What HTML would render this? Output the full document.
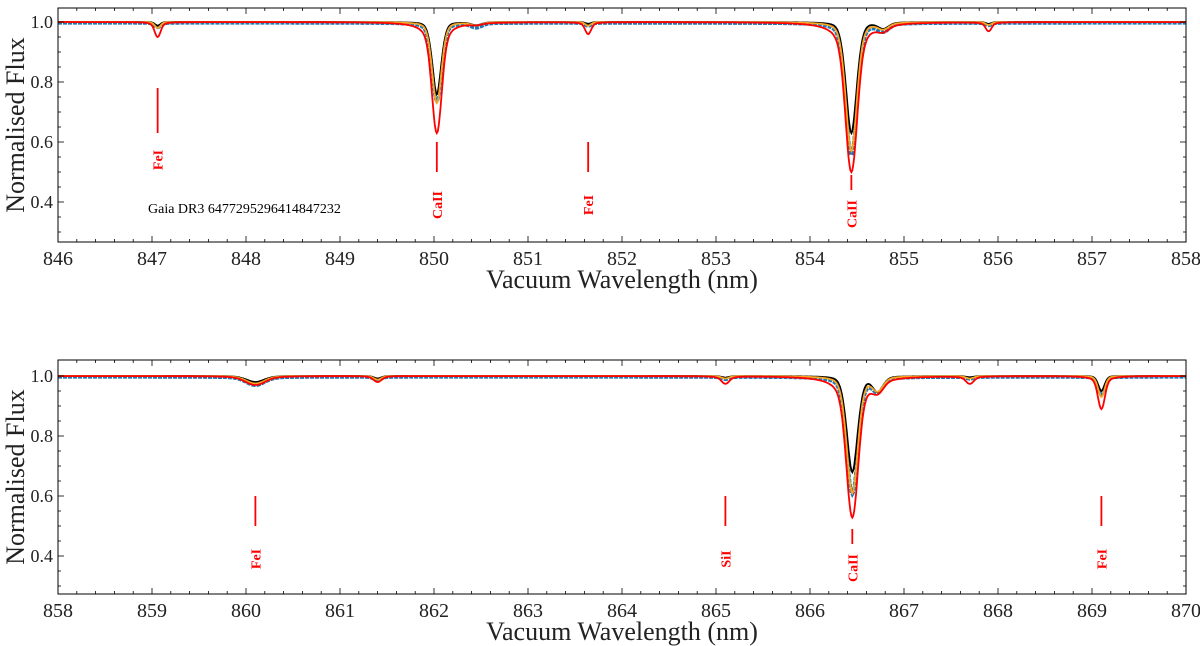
<!DOCTYPE html>
<html><head><meta charset="utf-8"><style>
html,body{margin:0;padding:0;background:#fff;}
svg{display:block;font-family:"Liberation Serif",serif;}
</style></head><body>
<svg id="chart" width="1200" height="646" viewBox="0 0 1200 646" xmlns="http://www.w3.org/2000/svg"></svg>
<script>
// ---- data ----
const panelRanges = [[846, 858], [858, 870]];
const xTickLabels = [["846","847","848","849","850","851","852","853","854","855","856","857","858"],
                     ["858","859","860","861","862","863","864","865","866","867","868","869","870"]];
const yTickValues = [0.4, 0.6, 0.8, 1.0];
// absorption lines: center(nm), width(nm)
const lineCenters = [847.06, 850.03, 850.45, 851.64, 854.44, 854.78, 855.90, 860.10, 861.40, 865.10, 866.45, 866.72, 867.70, 869.10];
const lineWidths  = [0.03,   0.05,   0.06,   0.03,   0.06,   0.06,   0.03,   0.10,   0.04,   0.04,   0.06,   0.06,   0.04,   0.035];
// depths for each model
const depthRed    = [0.05, 0.37, 0.006,0.04, 0.50, 0.02, 0.03, 0.030, 0.020, 0.025, 0.47, 0.04, 0.025, 0.11];
const depthBlack  = [0.012,0.24, 0.01, 0.006,0.37, 0.02, 0.006,0.020, 0.008, 0.005, 0.32, 0.05, 0.004, 0.05];
const depthOrange = [0.02, 0.27, 0.01, 0.012,0.43, 0.02, 0.010,0.025, 0.012, 0.008, 0.39, 0.045,0.008, 0.07];
const depthBlue   = [0.015,0.26, 0.015,0.010,0.44, 0.025,0.008,0.028, 0.010, 0.008, 0.39, 0.045,0.006, 0.06];
const wingRed = 1.6, wingBlack = 0.8, wingOrange = 1.0, wingBlue = 1.05;
// line identifications
const markWave  = [847.06, 850.03, 851.64, 854.44, 860.10, 865.10, 866.45, 869.10];
const markLabel = ["FeI", "CaII", "FeI", "CaII", "FeI", "SiI", "CaII", "FeI"];
const markTop   = [0.78, 0.60, 0.60, 0.49, 0.60, 0.60, 0.49, 0.60];
const markBot   = [0.63, 0.50, 0.50, 0.44, 0.50, 0.50, 0.44, 0.50];
const markText  = [0.54, 0.39, 0.39, 0.36, 0.39, 0.39, 0.36, 0.39];
// ---- layout ----
const NS = "http://www.w3.org/2000/svg";
const svg = document.getElementById('chart');
const L = 58, R = 1186;
const panelTop = [8, 360], panelBot = [242, 594], panelOne = [22, 376];
function mk(tag, attrs, parent){const e=document.createElementNS(NS,tag);for(const k in attrs)e.setAttribute(k,attrs[k]);(parent||svg).appendChild(e);return e;}
function xs(p, w){const [a,b]=panelRanges[p];return L+(w-a)/(b-a)*(R-L);}
function ys(p, f){return panelOne[p]+(1-f)*300;}
function model(w, depths, wing){let f=1;for(let i=0;i<lineCenters.length;i++){const d=w-lineCenters[i],s=lineWidths[i];const g=Math.exp(-d*d/(2*s*s));const lz=1/(1+(d/(s*wing*1.2))**2);f-=depths[i]*(0.7*g+0.3*lz);}return f;}
function path(p, depths, wing, off){const [a,b]=panelRanges[p];let d="";for(let w=a;w<=b+1e-9;w+=0.01){d+=(d?"L":"M")+xs(p,w).toFixed(1)+","+ys(p,Math.max(0.27,model(w,depths,wing)-off)).toFixed(1);}return d;}
for(let p=0;p<2;p++){
  const g = mk('g',{});
  
  
  const clipId='clip'+p;
  const cp=mk('clipPath',{id:clipId},g);mk('rect',{x:L,y:panelTop[p],width:R-L,height:panelBot[p]-panelTop[p]},cp);
  const series=[['observed-spectrum','#1f77b4',depthBlue,wingBlue,3.5,'4,1',0.003],['orange-model','#f5a623',depthOrange,wingOrange,1.8,null,0],['black-model','#000',depthBlack,wingBlack,1.8,null,0],['red-model','#ff0000',depthRed,wingRed,1.8,null,0]];
  const order=[0,2,1,3];
  for(const i of order){const s=series[i];const e=mk('path',{d:path(p,s[2],s[3],s[6]),fill:'none',stroke:s[1],'stroke-width':s[4],'clip-path':'url(#'+clipId+')'},g);if(s[5])e.setAttribute('stroke-dasharray',s[5]);
    
    }
  const fr=mk('rect',{x:L,y:panelTop[p],width:R-L,height:panelBot[p]-panelTop[p],fill:'none',stroke:'#000','stroke-width':1},g);
  
  
  const [a,b]=panelRanges[p];
  for(let k=0;k<=60;k++){const w=a+k*0.2;const x=xs(p,w);const major=k%5===0;const len=major?6:3;
    mk('line',{x1:x,x2:x,y1:panelBot[p],y2:panelBot[p]-len,stroke:'#000','stroke-width':0.8},g);
    mk('line',{x1:x,x2:x,y1:panelTop[p],y2:panelTop[p]+len,stroke:'#000','stroke-width':0.8},g);
    if(major){const t=mk('text',{x:x,y:panelBot[p]+23,'text-anchor':'middle','font-size':20,fill:'#222'},g);t.textContent=xTickLabels[p][k/5];
      
      }}
  for(let f=0.3;f<=1.05;f+=0.05){const y=ys(p,f);if(y<panelTop[p]||y>panelBot[p])continue;const major=Math.abs(Math.round(f*10)-f*10)<1e-6&&Math.round(f*10)%2===0;const len=major?6:3;
    mk('line',{x1:L,x2:L+len,y1:y,y2:y,stroke:'#000','stroke-width':0.8},g);
    mk('line',{x1:R,x2:R-len,y1:y,y2:y,stroke:'#000','stroke-width':0.8},g);}
  for(const v of yTickValues){const t=mk('text',{x:L-5,y:ys(p,v)+6,'text-anchor':'end','font-size':18,fill:'#222'},g);t.textContent=v.toFixed(1);
    
    }
  const yl=mk('text',{transform:`translate(24,${(panelTop[p]+panelBot[p])/2}) rotate(-90)`,'text-anchor':'middle','font-size':26,fill:'#222'},g);yl.textContent='Normalised Flux';
  
  
  const xl=mk('text',{x:(L+R)/2,y:panelBot[p]+46,'text-anchor':'middle','font-size':26,fill:'#222'},g);xl.textContent='Vacuum Wavelength (nm)';
  
  
  for(let i=0;i<markWave.length;i++){if(markWave[i]<a||markWave[i]>b)continue;const x=xs(p,markWave[i]);
    const ln=mk('line',{x1:x,x2:x,y1:ys(p,markTop[i]),y2:ys(p,markBot[i]),stroke:'#ff0000','stroke-width':1.8},g);
    
    
    const t=mk('text',{transform:`translate(${x+5},${ys(p,markText[i])}) rotate(-90)`,'text-anchor':'middle','font-size':14,'font-weight':'bold',fill:'#ff0000'},g);t.textContent=markLabel[i];
    
    }
  if(p===0){const t=mk('text',{x:148,y:213,'font-size':14,fill:'#000'},g);t.textContent='Gaia DR3 6477295296414847232';
    
    }
}
</script>
</body></html>
